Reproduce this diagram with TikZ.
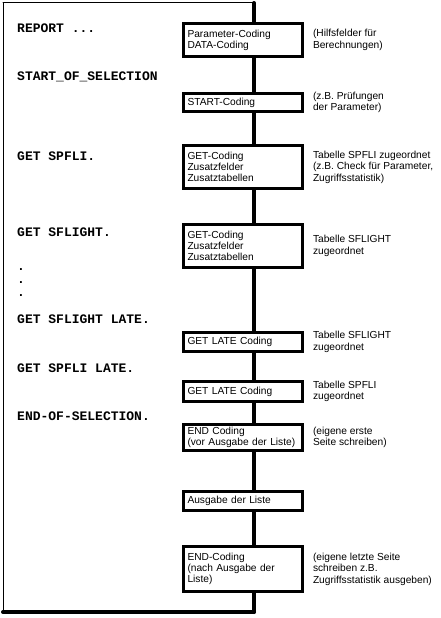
\documentclass[tikz,border=0pt]{standalone}
\usepackage{tkz-euclide}
\usepackage{tikz}
\usepackage{fontspec}
\setmainfont{Liberation Sans}
\newfontfamily\codefont{Liberation Mono}
\usetikzlibrary{positioning}

\tikzset{
  codebox/.style={draw, line width=3pt, fill=white, anchor=north west,
    outer sep=1.5pt, inner xsep=4pt, inner ysep=1pt,
    minimum width=119pt, text width=111pt, align=left,
    font=\fontsize{10.2}{11}\selectfont},
  note/.style={inner sep=0pt, outer sep=0pt, align=left,
    font=\fontsize{10.2}{11.5}\selectfont},
  code/.style={inner sep=0pt, anchor=base west,
    font=\codefont\bfseries\fontsize{13}{13}\selectfont}
}

\begin{document}
\begin{tikzpicture}[x=1pt, y=-1pt]
    \useasboundingbox (0,0) rectangle (440,618);
    \tkzDefPoints{3/3/A,254/3/B,254/612/C,3/612/D}
    \tkzDrawSegments[line width=1pt](D,A A,B)
    \tkzDrawSegments[line width=4pt](B,C C,D)
    \node[code] (report) at (17,33) {REPORT ...};
    \node[code] (startsel) at (17,80) {START\_OF\_SELECTION};
    \node[code] (getspfli) at (17,160) {GET SPFLI.};
    \node[code] (getsflight) at (17,236) {GET SFLIGHT.};
    \node[code, anchor=west, align=left] (dots) at (17,283) {.\\.\\.};
    \node[code] (getsflightlate) at (17,323) {GET SFLIGHT LATE.};
    \node[code] (getspflilate) at (17,372) {GET SPFLI LATE.};
    \node[code] (endsel) at (17,420) {END-OF-SELECTION.};
    \node[codebox, minimum height=33pt] (param) at (182,22) {Parameter-Coding\\DATA-Coding};
    \node[codebox, minimum height=18pt] (start) at (182,92) {START-Coding};
    \node[codebox, minimum height=43pt] (spfli) at (182,144) {GET-Coding\\Zusatzfelder\\Zusatztabellen};
    \node[codebox, minimum height=43pt] (sflight) at (182,223) {GET-Coding\\Zusatzfelder\\Zusatztabellen};
    \node[codebox, minimum height=19pt] (latesflight) at (182,331) {GET LATE Coding};
    \node[codebox, minimum height=20pt] (latespfli) at (182,380) {GET LATE Coding};
    \node[codebox, minimum height=26pt] (endvor) at (182,423) {END Coding\\(vor Ausgabe der Liste)};
    \node[codebox, minimum height=19pt] (liste) at (182,490) {Ausgabe der Liste};
    \node[codebox, minimum height=45pt] (endnach) at (182,545) {END-Coding\\(nach Ausgabe der\\Liste)};
    \node[note, right=9pt of param] (paramnote) {(Hilfsfelder für\\Berechnungen)};
    \node[note, right=9pt of start] (startnote) {(z.B. Prüfungen\\der Parameter)};
    \node[note, right=9pt of spfli] (spflinote) {Tabelle SPFLI zugeordnet\\(z.B. Check für Parameter,\\Zugriffsstatistik)};
    \node[note, right=9pt of sflight] (sflightnote) {Tabelle SFLIGHT\\zugeordnet};
    \node[note, right=9pt of latesflight] (latesflightnote) {Tabelle SFLIGHT\\zugeordnet};
    \node[note, right=9pt of latespfli] (latespflinote) {Tabelle SPFLI\\zugeordnet};
    \node[note, right=9pt of endvor] (endvornote) {(eigene erste\\Seite schreiben)};
    \node[note, right=9pt of endnach] (endnachnote) {(eigene letzte Seite\\schreiben z.B.\\Zugriffsstatistik ausgeben)};
\end{tikzpicture}
\end{document}
